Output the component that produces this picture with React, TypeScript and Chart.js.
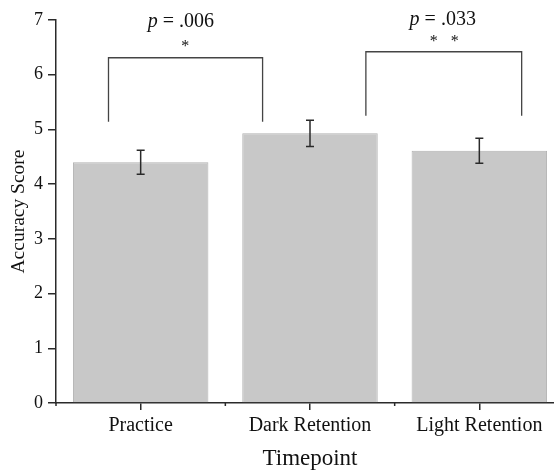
import React, { useEffect, useRef } from "react";
import { Chart, registerables } from "chart.js";

Chart.register(...registerables);

const categories = ["Practice", "Dark Retention", "Light Retention"];
const meanScores = [4.4, 4.93, 4.61];
const errorSizes = [0.22, 0.24, 0.23];
const yTicks = [0, 1, 2, 3, 4, 5, 6, 7];

// significance brackets (x in category units, y in score units)
const bracketStartX = [-0.19, 1.33];
const bracketEndX = [0.72, 2.25];
const bracketTopY = [6.31, 6.42];
const bracketBottomY = [5.14, 5.25];
const pValueLabels = [".006", ".033"];
const pLabelX = [0.237, 1.784];
const pLabelY = [6.87, 6.91];
const starX = [[0.263], [1.731, 1.855]];
const starY = [6.435, 6.527];

const SERIF = "'Liberation Serif', 'Times New Roman', serif";
const INK = "#2a2a2a";

export default function App() {
  const ref = useRef<HTMLCanvasElement | null>(null);

  useEffect(() => {
    if (!ref.current) return;

    const overlay = {
      id: "overlay",
      afterDatasetsDraw(chart: any) {
        const ctx = chart.ctx;
        const xs = chart.scales.x;
        const ys = chart.scales.y;
        const x0 = xs.getPixelForValue(0);
        const step = xs.getPixelForValue(1) - x0;
        const px = (v: number) => x0 + v * step;
        ctx.save();
        // error bars
        ctx.strokeStyle = INK;
        ctx.lineWidth = 1.5;
        meanScores.forEach((m, i) => {
          const x = xs.getPixelForValue(i);
          const yt = ys.getPixelForValue(m + errorSizes[i]);
          const yb = ys.getPixelForValue(m - errorSizes[i]);
          ctx.beginPath();
          ctx.moveTo(x, yt);
          ctx.lineTo(x, yb);
          ctx.moveTo(x - 4, yt);
          ctx.lineTo(x + 4, yt);
          ctx.moveTo(x - 4, yb);
          ctx.lineTo(x + 4, yb);
          ctx.stroke();
        });
        // minor boundary ticks on x axis
        const axisY = ys.getPixelForValue(0);
        for (let i = 0; i <= categories.length; i++) {
          const x = px(i - 0.5);
          ctx.beginPath();
          ctx.moveTo(x, axisY);
          ctx.lineTo(x, axisY + 3);
          ctx.stroke();
        }
        // brackets
        ctx.strokeStyle = "#444";
        ctx.lineWidth = 1.3;
        bracketStartX.forEach((sx, i) => {
          const l = px(sx);
          const r = px(bracketEndX[i]);
          const t = ys.getPixelForValue(bracketTopY[i]);
          const b = ys.getPixelForValue(bracketBottomY[i]);
          ctx.beginPath();
          ctx.moveTo(l, b);
          ctx.lineTo(l, t);
          ctx.lineTo(r, t);
          ctx.lineTo(r, b);
          ctx.stroke();
        });
        // p-value labels
        ctx.fillStyle = "#111";
        ctx.textBaseline = "alphabetic";
        pValueLabels.forEach((lab, i) => {
          const cx = px(pLabelX[i]);
          const by = ys.getPixelForValue(pLabelY[i]);
          ctx.font = `italic 20px ${SERIF}`;
          const pw = ctx.measureText("p").width;
          ctx.font = `20px ${SERIF}`;
          const rest = " = " + lab;
          const rw = ctx.measureText(rest).width;
          const start = cx - (pw + rw) / 2;
          ctx.textAlign = "left";
          ctx.font = `italic 20px ${SERIF}`;
          ctx.fillText("p", start, by);
          ctx.font = `20px ${SERIF}`;
          ctx.fillText(rest, start + pw, by);
        });
        // asterisks
        ctx.font = `16px ${SERIF}`;
        ctx.textAlign = "center";
        starX.forEach((arr, i) => {
          arr.forEach((sx) => {
            ctx.fillText("*", px(sx), ys.getPixelForValue(starY[i]));
          });
        });
        ctx.restore();
      },
    };

    const chart = new Chart(ref.current, {
      type: "bar",
      data: {
        labels: categories,
        datasets: [
          {
            data: meanScores,
            backgroundColor: "#c8c8c8",
            borderColor: "#b2b2b2",
            borderWidth: 1,
            categoryPercentage: 1,
            barPercentage: 0.8,
          },
        ],
      },
      options: {
        animation: false,
        responsive: false,
        layout: { padding: { top: 20, left: 0, right: 0, bottom: 0 } },
        plugins: { legend: { display: false }, tooltip: { enabled: false } },
        scales: {
          x: {
            offset: true,
            grid: {
              offset: false,
              drawOnChartArea: false,
              tickLength: 7,
              color: INK,
              lineWidth: 1.5,
            },
            border: { color: INK, width: 1.5 },
            ticks: {
              color: "#111",
              font: { family: SERIF, size: 20 },
              padding: 4,
              maxRotation: 0,
            },
            title: {
              display: true,
              text: "Timepoint",
              color: "#111",
              font: { family: SERIF, size: 23, lineHeight: 1 },
              padding: { top: 0, bottom: 0 },
            },
            afterFit(scale: any) {
              scale.height = 67;
            },
          },
          y: {
            min: 0,
            max: 7,
            afterBuildTicks(scale: any) {
              scale.ticks = yTicks.map((v) => ({ value: v }));
            },
            grid: {
              drawOnChartArea: false,
              tickLength: 8,
              color: INK,
              lineWidth: 1.5,
            },
            border: { color: INK, width: 1.5 },
            ticks: {
              color: "#111",
              font: { family: SERIF, size: 18 },
              padding: 5,
            },
            title: {
              display: true,
              text: "Accuracy Score",
              color: "#111",
              font: { family: SERIF, size: 19.5 },
              padding: { top: 7, bottom: 0 },
            },
            afterFit(scale: any) {
              scale.width = 56;
            },
          },
        },
      },
      plugins: [overlay],
    });
    return () => chart.destroy();
  }, []);

  return (
    <div
      style={{
        position: "fixed",
        left: 0,
        top: 0,
        width: 554,
        height: 470,
        overflow: "hidden",
        background: "#fff",
      }}
    >
      <canvas ref={ref} width={564} height={470} style={{ display: "block" }} />
    </div>
  );
}
